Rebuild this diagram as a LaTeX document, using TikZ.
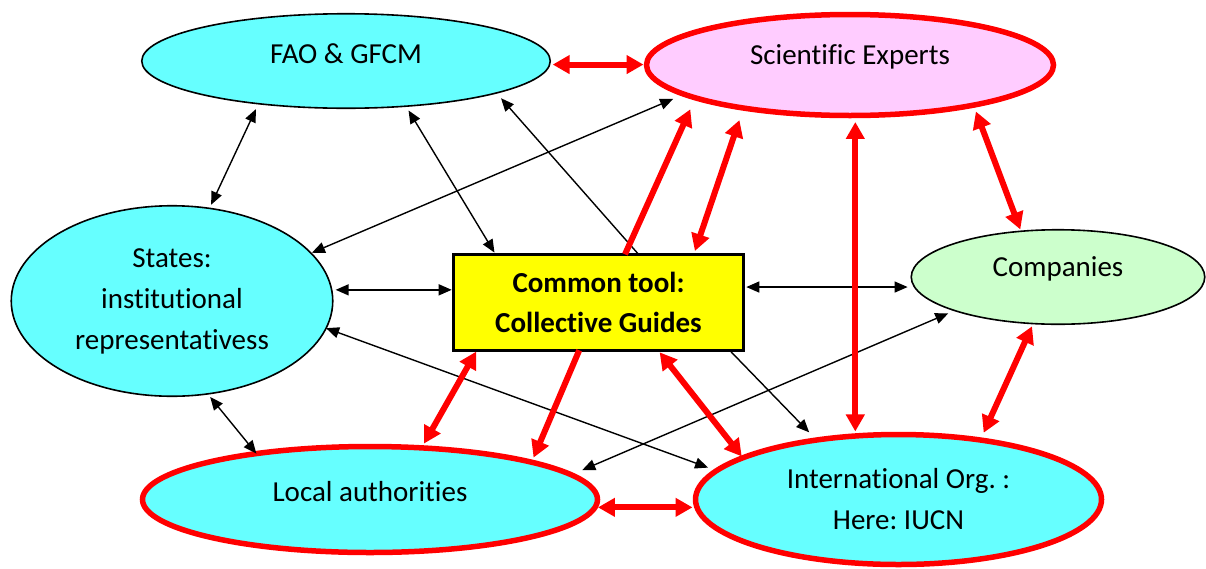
\documentclass[tikz,border=0pt]{standalone}
\usepackage{fontspec}
\setmainfont{Carlito}[Ligatures=NoCommon]
\usetikzlibrary{arrows.meta,shapes.geometric}
\definecolor{aqua}{HTML}{66FFFF}
\definecolor{pinkfill}{HTML}{FFCCFF}
\definecolor{mint}{HTML}{CCFFCC}
\definecolor{yel}{HTML}{FFFF00}
\definecolor{rd}{HTML}{FF0000}
\frenchspacing
\begin{document}
\begin{tikzpicture}[x=1pt,y=-1pt,
  every node/.style={font=\fontsize{29}{41}\selectfont, inner sep=0pt, outer sep=0pt},
  ell/.style={ellipse, align=center},
  plain/.style={ell, draw=black, line width=1.6pt},
  accent/.style={ell, draw=rd, line width=5.5pt},
  lift/.style={text height=20pt, text depth=#1},
  guide/.style={rectangle, draw=black, line width=3.3pt, fill=yel, align=center,
    font=\fontsize{29}{40}\selectfont\bfseries},
  link/.style={black, line width=1.4pt, >={Triangle[length=13pt,width=11pt]}},
  strong/.style={rd, line width=6pt, >={Triangle[length=17pt,width=18pt]}},
]
\path[use as bounding box, fill=white] (0,0) rectangle (1206,568);

% actors
\node[plain, fill=aqua, minimum width=408.5pt, minimum height=94.5pt, lift=16pt]
  (fao) at (346,61) {FAO \& GFCM};
\node[accent, fill=pinkfill, minimum width=407pt, minimum height=101pt, lift=21.4pt]
  (sci) at (850,65) {Scientific Experts};
\node[plain, fill=aqua, minimum width=321.5pt, minimum height=190.5pt]
  (states) at (172,301) {States:\\institutional\\representativess};
\node[plain, fill=mint, minimum width=293.5pt, minimum height=94.5pt, lift=22pt]
  (comp) at (1058,277) {Companies};
\node[accent, fill=aqua, minimum width=455pt, minimum height=106pt, lift=17pt]
  (local) at (370,499.5) {Local authorities};
\node[accent, fill=aqua, minimum width=406pt, minimum height=130pt]
  (intl) at (898.5,499.5) {International Org. :\\Here: IUCN};
\node[guide, minimum width=289.6pt, minimum height=96pt]
  (box) at (598.5,302.3) {Common tool:\\Collective Guides};

% thin black links
\draw[link,<->,shorten <=6pt,shorten >=4pt] (fao.-154.2) -- (states.68.8);
\draw[link,<->,shorten <=5pt,shorten >=2pt] (fao.-37.2) -- ([xshift=41.8pt]box.north west);
\draw[link,->,shorten >=7pt] ([xshift=184.8pt]box.north west) -- (fao.-12.8);
\draw[link,<->,shorten <=12pt,shorten >=1pt] (sci.-170.5) -- (states.19.25);
\draw[link,<->,shorten <=4pt,shorten >=2pt] (states.4.3) -- (states.4.3 -| box.west);
\draw[link,<->,shorten <=3pt,shorten >=7pt] (box.east |- comp.184.8) -- (comp.184.8);
\draw[link,<->,shorten >=9pt] (states.-10) -- (intl.171.4);
\draw[link,<->,shorten <=7pt,shorten >=12pt] (comp.-162.5) -- (local.7.95);
\draw[link,->,shorten >=10.7pt] ([xshift=-13.7pt]box.south east) -- (intl.144.7);
\draw[link,<->,shorten <=4pt] (states.-69.3) -- (local.158.9);

% thick red links
\draw[strong,<->,shorten <=3pt,shorten >=3pt] (fao.-1.1) -- (fao.-1.1 -| sci.west);
\draw[strong,->,shorten >=12.5pt] ([xshift=171.3pt]box.north west) -- (sci.192.5);
\draw[strong,<->,shorten <=12.7pt,shorten >=3.5pt] (sci.-158.1) -- ([xshift=240.1pt]box.north west);
\draw[strong,<->,shorten <=6.5pt,shorten >=4.5pt] (sci.-84.3) -- (sci.-84.3 |- intl.124.1);
\draw[strong,<->,shorten <=6.8pt,shorten >=2pt] (sci.-18.7) -- (comp.129.6);
\draw[strong,<->,shorten <=3pt,shorten >=8pt] (comp.-118.6) -- (intl.36.9);
\draw[strong,<->,shorten <=1.5pt,shorten >=5pt] ([xshift=23.2pt]box.south west) -- (local.45.7);
\draw[strong,->,shorten >=5pt] ([xshift=125.5pt]box.south west) -- (local.13.9);
\draw[strong,<->,shorten <=2.5pt,shorten >=1.7pt] ([xshift=204.4pt]box.south west) -- (intl.165);
\draw[strong,<->,shorten <=3pt,shorten >=3pt] (local.-2) -- (local.-2 -| intl.west);
\end{tikzpicture}
\end{document}
